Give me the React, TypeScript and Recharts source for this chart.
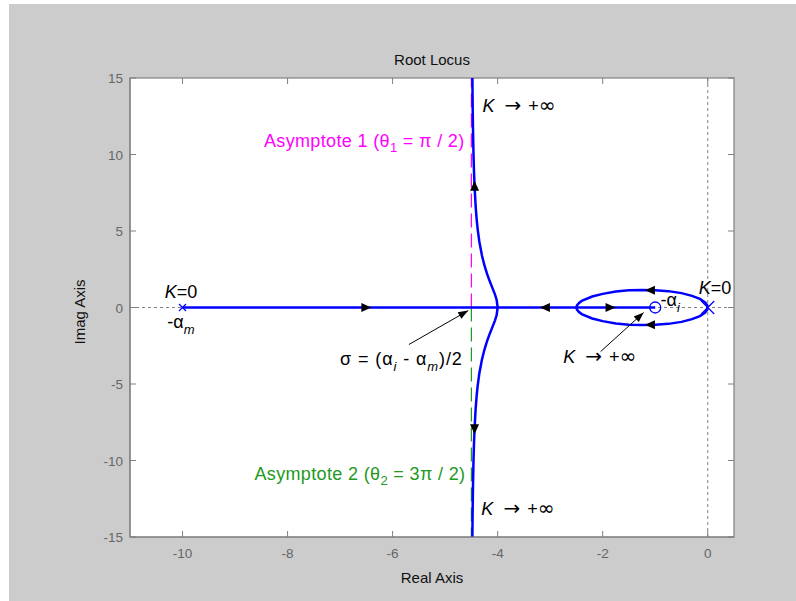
import React from 'react';
import { ComposedChart, Line, Scatter, XAxis, YAxis } from 'recharts';

// ---------- data ----------
const xTicks = [-10, -8, -6, -4, -2, 0];
const yTicks = [-15, -10, -5, 0, 5, 10, 15];

// branch from breakaway point (-4,0) towards +j infinity
const upperBranch = [
  { x: -4.0, y: 0 }, { x: -4.02, y: 0.51 }, { x: -4.05, y: 0.84 }, { x: -4.1, y: 1.28 },
  { x: -4.15, y: 1.71 }, { x: -4.2, y: 2.18 }, { x: -4.25, y: 2.73 }, { x: -4.3, y: 3.41 },
  { x: -4.35, y: 4.33 }, { x: -4.38, y: 5.11 }, { x: -4.4, y: 5.78 }, { x: -4.42, y: 6.67 },
  { x: -4.44, y: 7.95 }, { x: -4.45, y: 8.84 }, { x: -4.46, y: 10.03 }, { x: -4.47, y: 11.75 },
  { x: -4.475, y: 12.96 }, { x: -4.48, y: 14.59 }, { x: -4.483, y: 15.89 },
];
// branch from breakaway point (-4,0) towards -j infinity
const lowerBranch = [
  { x: -4.0, y: 0 }, { x: -4.02, y: -0.51 }, { x: -4.05, y: -0.84 }, { x: -4.1, y: -1.28 },
  { x: -4.15, y: -1.71 }, { x: -4.2, y: -2.18 }, { x: -4.25, y: -2.73 }, { x: -4.3, y: -3.41 },
  { x: -4.35, y: -4.33 }, { x: -4.38, y: -5.11 }, { x: -4.4, y: -5.78 }, { x: -4.42, y: -6.67 },
  { x: -4.44, y: -7.95 }, { x: -4.45, y: -8.84 }, { x: -4.46, y: -10.03 }, { x: -4.47, y: -11.75 },
  { x: -4.475, y: -12.96 }, { x: -4.48, y: -14.59 }, { x: -4.483, y: -15.89 },
];
// loop from the double pole at 0 to the break-in point -2.5
const loopUpper = [
  { x: 0, y: 0 }, { x: -0.01, y: 0.15 }, { x: -0.05, y: 0.33 }, { x: -0.15, y: 0.56 },
  { x: -0.3, y: 0.76 }, { x: -0.5, y: 0.94 }, { x: -0.75, y: 1.07 }, { x: -1.0, y: 1.13 },
  { x: -1.25, y: 1.15 }, { x: -1.5, y: 1.12 }, { x: -1.75, y: 1.04 }, { x: -2.0, y: 0.89 },
  { x: -2.2, y: 0.72 }, { x: -2.4, y: 0.43 }, { x: -2.45, y: 0.3 }, { x: -2.49, y: 0.14 },
  { x: -2.5, y: 0 },
];
const loopLower = [
  { x: 0, y: 0 }, { x: -0.01, y: -0.15 }, { x: -0.05, y: -0.33 }, { x: -0.15, y: -0.56 },
  { x: -0.3, y: -0.76 }, { x: -0.5, y: -0.94 }, { x: -0.75, y: -1.07 }, { x: -1.0, y: -1.13 },
  { x: -1.25, y: -1.15 }, { x: -1.5, y: -1.12 }, { x: -1.75, y: -1.04 }, { x: -2.0, y: -0.89 },
  { x: -2.2, y: -0.72 }, { x: -2.4, y: -0.43 }, { x: -2.45, y: -0.3 }, { x: -2.49, y: -0.14 },
  { x: -2.5, y: 0 },
];
const realAxisLocus = [{ x: -10, y: 0 }, { x: -1, y: 0 }];

const zeroLineH = [{ x: -11, y: 0 }, { x: 0.5, y: 0 }];
const zeroLineV = [{ x: 0, y: -15 }, { x: 0, y: 15 }];
const asymptote1 = [{ x: -4.5, y: 0 }, { x: -4.5, y: 15 }];
const asymptote2 = [{ x: -4.5, y: 0 }, { x: -4.5, y: -15 }];

const flowArrows = [
  { x: -6.5, y: 0, dir: 'right' },
  { x: -3.1, y: 0, dir: 'left' },
  { x: -1.85, y: 0, dir: 'right' },
  { x: -1.1, y: 1.13, dir: 'left' },
  { x: -1.1, y: -1.13, dir: 'left' },
  { x: -4.44, y: 7.95, dir: 'up' },
  { x: -4.44, y: -7.95, dir: 'down' },
];

const poles = [{ x: -10, y: 0, kind: 'small' }, { x: 0, y: 0, kind: 'large' }];
const zeros = [{ x: -1, y: 0 }];

const pointerSigma = [{ x: -5.69, y: -2.42 }, { x: -4.56, y: -0.2 }];
const pointerZero = [{ x: -2.04, y: -2.88 }, { x: -1.22, y: -0.33 }];

const annotations = [
  { id: 'asym1', x: -8.45, y: 10.48 },
  { id: 'asym2', x: -8.63, y: -11.26 },
  { id: 'kTop', x: -4.29, y: 12.77 },
  { id: 'kBottom', x: -4.31, y: -13.56 },
  { id: 'kRight', x: -2.75, y: -3.6 },
  { id: 'k0Left', x: -10.34, y: 0.65 },
  { id: 'k0Right', x: -0.17, y: 0.85 },
  { id: 'alphaM', x: -10.29, y: -1.31 },
  { id: 'alphaI', x: -0.9, y: 0.07 },
  { id: 'sigma', x: -7.0, y: -3.73 },
];

// ---------- layout / style ----------
const W = 787;
const H = 597;
const PLOT_LEFT = 121;
const PLOT_TOP = 74;
const PLOT_RIGHT = 725;
const PLOT_BOTTOM = 533;
const AXIS = '#808080';
const TICK_TEXT = '#666666';
const FONT = '"Liberation Sans", Arial, Helvetica, sans-serif';
const SYM_FONT = '"DejaVu Sans", sans-serif';
const BLUE = '#0000ff';
const MAGENTA = '#ff00ff';
const GREEN = '#229922';
const ANN = 18;
const SUB = 13;

const XTick = (props: any) => {
  const { x, payload } = props;
  return (
    <g>
      <line x1={x} x2={x} y1={PLOT_BOTTOM} y2={PLOT_BOTTOM - 6} stroke={AXIS} />
      <line x1={x} x2={x} y1={PLOT_TOP} y2={PLOT_TOP + 6} stroke={AXIS} />
      <text x={x} y={PLOT_BOTTOM + 21} textAnchor="middle" fontSize={13.5} fill={TICK_TEXT} fontFamily={FONT}>
        {payload.value}
      </text>
    </g>
  );
};

const YTick = (props: any) => {
  const { y, payload } = props;
  return (
    <g>
      <line x1={PLOT_LEFT} x2={PLOT_LEFT + 6} y1={y} y2={y} stroke={AXIS} />
      <line x1={PLOT_RIGHT} x2={PLOT_RIGHT - 6} y1={y} y2={y} stroke={AXIS} />
      <text x={PLOT_LEFT - 7} y={y + 5} textAnchor="end" fontSize={13.5} fill={TICK_TEXT} fontFamily={FONT}>
        {payload.value}
      </text>
    </g>
  );
};

const FlowArrow = (props: any) => {
  const { cx, cy, payload } = props;
  const rot: Record<string, number> = { right: 0, left: 180, up: -90, down: 90 };
  return (
    <polygon
      points="5,0 -5,-4.5 -5,4.5"
      transform={`translate(${cx},${cy}) rotate(${rot[payload.dir]})`}
      fill="#000"
    />
  );
};

const PoleMark = (props: any) => {
  const { cx, cy, payload } = props;
  const s = payload.kind === 'large' ? 6.5 : 3.5;
  return (
    <g stroke={BLUE} strokeWidth={1.2}>
      <line x1={cx - s} y1={cy - s} x2={cx + s} y2={cy + s} />
      <line x1={cx - s} y1={cy + s} x2={cx + s} y2={cy - s} />
    </g>
  );
};

const ZeroMark = (props: any) => {
  const { cx, cy } = props;
  return <circle cx={cx} cy={cy} r={5.5} fill="none" stroke={BLUE} strokeWidth={1.3} />;
};

const ArrowHeadDot = (props: any) => {
  const { cx, cy, index, points } = props;
  if (index !== 1 || !points || !points[0]) return <g key={`ah-${index}`} />;
  const p0 = points[0];
  const ang = (Math.atan2(cy - p0.y, cx - p0.x) * 180) / Math.PI;
  return (
    <polygon
      key={`ah-${index}`}
      points="0,0 -10,-3.8 -10,3.8"
      transform={`translate(${cx},${cy}) rotate(${ang})`}
      fill="#000"
    />
  );
};

const KInf = ({ x, y }: { x: number; y: number }) => (
  <text x={x} y={y} fontSize={ANN} fontFamily={FONT} fill="#000">
    <tspan fontStyle="italic">K</tspan>
    <tspan dx={10} fontFamily={SYM_FONT} fontSize={20}>→</tspan>
    <tspan dx={7}>+</tspan>
    <tspan fontFamily={SYM_FONT} fontSize={20}>∞</tspan>
  </text>
);

const Annotation = (props: any) => {
  const { cx, cy, payload } = props;
  const x = cx;
  const y = cy;
  switch (payload.id) {
    case 'asym1':
      return (
        <text x={x} y={y} fontSize={ANN} fontFamily={FONT} fill={MAGENTA} letterSpacing={0.35}>
          <tspan>Asymptote 1 (θ</tspan>
          <tspan dy={5} fontSize={SUB}>1</tspan>
          <tspan dy={-5}> = π / 2)</tspan>
        </text>
      );
    case 'asym2':
      return (
        <text x={x} y={y} fontSize={ANN} fontFamily={FONT} fill={GREEN} letterSpacing={0.35}>
          <tspan>Asymptote 2 (θ</tspan>
          <tspan dy={5} fontSize={SUB}>2</tspan>
          <tspan dy={-5}> = 3π / 2)</tspan>
        </text>
      );
    case 'kTop':
    case 'kBottom':
    case 'kRight':
      return <KInf x={x} y={y} />;
    case 'k0Left':
    case 'k0Right':
      return (
        <text x={x} y={y} fontSize={ANN} fontFamily={FONT} fill="#000">
          <tspan fontStyle="italic">K</tspan>
          <tspan>=0</tspan>
        </text>
      );
    case 'alphaM':
      return (
        <text x={x} y={y} fontSize={ANN} fontFamily={FONT} fill="#000">
          <tspan>-α</tspan>
          <tspan dy={6} fontSize={SUB} fontStyle="italic">m</tspan>
        </text>
      );
    case 'alphaI':
      return (
        <text x={x} y={y} fontSize={ANN} fontFamily={FONT} fill="#000">
          <tspan>-α</tspan>
          <tspan dy={6} fontSize={SUB} fontStyle="italic">i</tspan>
        </text>
      );
    case 'sigma':
      return (
        <text x={x} y={y} fontSize={ANN} fontFamily={FONT} fill="#000" letterSpacing={0.9}>
          <tspan>σ = (α</tspan>
          <tspan dy={6} fontSize={SUB} fontStyle="italic">i</tspan>
          <tspan dy={-6}> - α</tspan>
          <tspan dy={6} fontSize={SUB} fontStyle="italic">m</tspan>
          <tspan dy={-6}>)/2</tspan>
        </text>
      );
    default:
      return <g />;
  }
};

const lineProps = { dot: false, isAnimationActive: false, activeDot: false, legendType: 'none' as const };

export default function App() {
  return (
    <div style={{ position: 'absolute', left: 9, top: 4, width: W, height: H, background: '#cccccc' }}>
      <div
        style={{
          position: 'absolute',
          left: PLOT_LEFT,
          top: PLOT_TOP,
          width: PLOT_RIGHT - PLOT_LEFT,
          height: PLOT_BOTTOM - PLOT_TOP,
          background: '#ffffff',
        }}
      />
      <div style={{ position: 'absolute', left: 0, top: 0 }}>
        <ComposedChart width={W} height={H} margin={{ top: PLOT_TOP, right: W - PLOT_RIGHT, left: 0, bottom: 24 }}>
          <XAxis
            dataKey="x"
            type="number"
            domain={[-11, 0.5]}
            ticks={xTicks}
            allowDataOverflow
            height={H - PLOT_BOTTOM - 24}
            tickLine={false}
            axisLine={{ stroke: AXIS, strokeWidth: 1.2 }}
            tick={<XTick />}
            interval={0}
          />
          <YAxis
            dataKey="y"
            type="number"
            domain={[-15, 15]}
            ticks={yTicks}
            allowDataOverflow
            width={PLOT_LEFT}
            tickLine={false}
            axisLine={{ stroke: AXIS, strokeWidth: 1.2 }}
            tick={<YTick />}
            interval={0}
          />
          <Line data={zeroLineH} dataKey="y" stroke="#808080" strokeWidth={1} strokeDasharray="3 3" {...lineProps} />
          <Line data={zeroLineV} dataKey="y" stroke="#808080" strokeWidth={1} strokeDasharray="3 3" {...lineProps} />
          <Line data={asymptote1} dataKey="y" stroke={MAGENTA} strokeWidth={1.2} strokeDasharray="14 6" {...lineProps} />
          <Line data={asymptote2} dataKey="y" stroke={GREEN} strokeWidth={1.2} strokeDasharray="14 6" {...lineProps} />
          <Line data={realAxisLocus} dataKey="y" stroke={BLUE} strokeWidth={2.5} {...lineProps} />
          <Line data={upperBranch} dataKey="y" stroke={BLUE} strokeWidth={2.5} {...lineProps} />
          <Line data={lowerBranch} dataKey="y" stroke={BLUE} strokeWidth={2.5} {...lineProps} />
          <Line data={loopUpper} dataKey="y" stroke={BLUE} strokeWidth={2.5} {...lineProps} />
          <Line data={loopLower} dataKey="y" stroke={BLUE} strokeWidth={2.5} {...lineProps} />
          <Line data={pointerSigma} dataKey="y" stroke="#000" strokeWidth={1} dot={<ArrowHeadDot />} isAnimationActive={false} activeDot={false} />
          <Line data={pointerZero} dataKey="y" stroke="#000" strokeWidth={1} dot={<ArrowHeadDot />} isAnimationActive={false} activeDot={false} />
          <Scatter data={flowArrows} dataKey="y" shape={<FlowArrow />} isAnimationActive={false} />
          <Scatter data={poles} dataKey="y" shape={<PoleMark />} isAnimationActive={false} />
          <Scatter data={zeros} dataKey="y" shape={<ZeroMark />} isAnimationActive={false} />
          <Scatter data={annotations} dataKey="y" shape={<Annotation />} isAnimationActive={false} />
          <rect x={PLOT_LEFT} y={PLOT_TOP} width={PLOT_RIGHT - PLOT_LEFT} height={PLOT_BOTTOM - PLOT_TOP} fill="none" stroke={AXIS} strokeWidth={1.2} />
          <text x={(PLOT_LEFT + PLOT_RIGHT) / 2} y={61} textAnchor="middle" fontSize={15} fontFamily={FONT} fill="#111">
            Root Locus
          </text>
          <text x={(PLOT_LEFT + PLOT_RIGHT) / 2} y={579} textAnchor="middle" fontSize={15} fontFamily={FONT} fill="#111">
            Real Axis
          </text>
          <text
            x={70}
            y={308}
            textAnchor="middle"
            dominantBaseline="central"
            fontSize={15}
            fontFamily={FONT}
            fill="#111"
            transform="rotate(-90 70 308)"
          >
            Imag Axis
          </text>
        </ComposedChart>
      </div>
    </div>
  );
}
